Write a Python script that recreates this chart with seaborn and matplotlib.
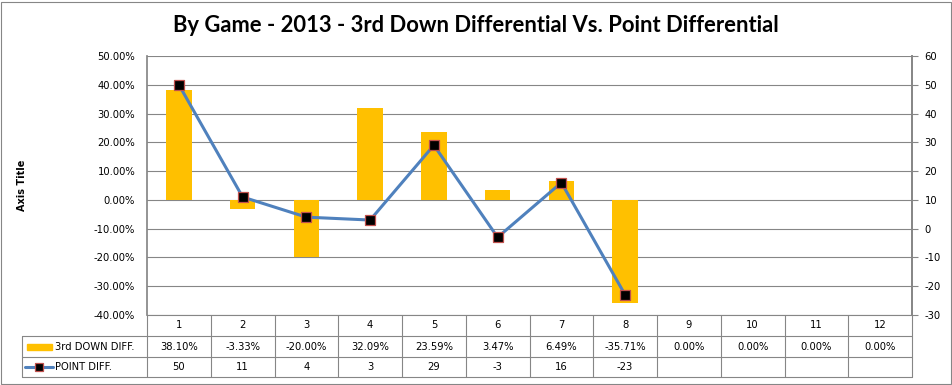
import numpy as np
import matplotlib
matplotlib.use('Agg')
import matplotlib.pyplot as plt
import matplotlib.ticker as mtick
from matplotlib.transforms import blended_transform_factory
from matplotlib.lines import Line2D
from matplotlib.patches import Rectangle
import seaborn as sns

# ---------------- data ----------------
games = [1, 2, 3, 4, 5, 6, 7, 8, 9, 10, 11, 12]
third_down = [0.3810, -0.0333, -0.2000, 0.3209, 0.2359, 0.0347, 0.0649, -0.3571, 0.0, 0.0, 0.0, 0.0]
point_diff = [50, 11, 4, 3, 29, -3, 16, -23]
bar_label = '3rd DOWN DIFF.'
line_label = 'POINT DIFF.'
title = 'By Game - 2013 - 3rd Down Differential Vs. Point Differential'

BAR_C = '#FFC000'
LINE_C = '#4F81BD'
EDGE_C = '#C0504D'
GRID_C = '#868686'

sns.set_theme(style='white')
plt.rcParams['font.family'] = ['DejaVu Sans']
plt.rcParams['axes.edgecolor'] = GRID_C
plt.rcParams['axes.unicode_minus'] = False
plt.rcParams['text.color'] = 'black'
plt.rcParams['axes.labelcolor'] = 'black'

W, H = 952, 385
fig = plt.figure(figsize=(W / 100, H / 100), dpi=100)

# plot area in pixels (from top-left of image)
left_px, right_px, top_px, bot_px = 147, 912, 56, 315
ax = fig.add_axes([left_px / W, 1 - bot_px / H, (right_px - left_px) / W, (bot_px - top_px) / H])

sns.barplot(x=games, y=third_down, ax=ax, color=BAR_C, width=0.4, saturation=1, linewidth=0)
ax.set_xlim(-0.5, len(games) - 0.5)
ax.set_ylim(-0.4, 0.5)
ax.set_yticks([k / 10 for k in range(-4, 6)])
ax.yaxis.set_major_formatter(mtick.FuncFormatter(lambda v, p: f'{round(v * 100, 6) + 0:.2f}%'))
ax.tick_params(axis='y', length=0, pad=8.5, labelsize=7.2, colors='black')
ax.set_xticks([])
ax.set_xlabel('')
ax.grid(axis='y', color=GRID_C, linewidth=0.8)
ax.set_axisbelow(True)
for s in ['top', 'bottom']:
    ax.spines[s].set_visible(False)
ax.spines['left'].set_color(GRID_C)
ax.spines['right'].set_color(GRID_C)
ax.set_ylabel('Axis Title', fontsize=7, fontweight='bold', labelpad=0)
ax.yaxis.set_label_coords((27 - left_px) / (right_px - left_px), 0.5)

ax2 = ax.twinx()
sns.lineplot(x=np.arange(len(point_diff)), y=point_diff, ax=ax2, color=LINE_C, linewidth=2.2,
             marker='s', markersize=6.5, markerfacecolor='black', markeredgecolor=EDGE_C,
             markeredgewidth=0.9)
ax2.set_ylim(-30, 60)
ax2.set_yticks(np.arange(-30, 61, 10))
ax2.tick_params(axis='y', length=4, width=0.8, color=GRID_C, pad=5, labelsize=7.2, labelcolor='black')
for s in ['top', 'bottom', 'left']:
    ax2.spines[s].set_visible(False)
ax2.spines['right'].set_color(GRID_C)
ax2.set_ylabel('')
ax2.set_xlim(-0.5, len(games) - 0.5)

# ---------------- data table ----------------
tr = blended_transform_factory(ax.transData, ax.transAxes)
ah = bot_px - top_px
rows = [0, -(336 - bot_px) / ah, -(357 - bot_px) / ah, -(377 - bot_px) / ah]
x_left = (22 - left_px) / (right_px - left_px)

def hline(x0, x1, y, trans):
    ax.add_line(Line2D([x0, x1], [y, y], transform=trans, color=GRID_C, lw=0.8, clip_on=False))

def vline(x, y0, y1, trans):
    ax.add_line(Line2D([x, x], [y0, y1], transform=trans, color=GRID_C, lw=0.8, clip_on=False))

hline(0, 1, rows[0], ax.transAxes)
for y in rows[1:]:
    hline(x_left, 1, y, ax.transAxes)
vline(x_left, rows[1], rows[3], ax.transAxes)
vline(0, rows[0], rows[3], ax.transAxes)
vline(1, rows[0], rows[3], ax.transAxes)
for k in range(1, len(games)):
    vline(k - 0.5, rows[0], rows[3], tr)

mid = [(rows[i] + rows[i + 1]) / 2 for i in range(3)]
for i, g in enumerate(games):
    ax.text(i, mid[0], str(g), transform=tr, ha='center', va='center', fontsize=7.2)
for i, v in enumerate(third_down):
    ax.text(i, mid[1], f'{v * 100:.2f}%', transform=tr, ha='center', va='center', fontsize=7.2)
for i, v in enumerate(point_diff):
    ax.text(i, mid[2], str(v), transform=tr, ha='center', va='center', fontsize=7.2)

# legend keys inside the table
px2ax = lambda px: (px - left_px) / (right_px - left_px)
ax.add_patch(Rectangle((px2ax(27), mid[1] - 3 / ah), px2ax(52) - px2ax(27), 6 / ah,
                       transform=ax.transAxes, color=BAR_C, clip_on=False))
ax.add_line(Line2D([px2ax(25), px2ax(53)], [mid[2], mid[2]], transform=ax.transAxes,
                   color=LINE_C, lw=2.2, clip_on=False))
ax.add_line(Line2D([px2ax(39)], [mid[2]], transform=ax.transAxes, marker='s', markersize=5.5,
                   markerfacecolor='black', markeredgecolor=EDGE_C, markeredgewidth=0.9,
                   clip_on=False))
ax.text(px2ax(55), mid[1], bar_label, transform=ax.transAxes, ha='left', va='center', fontsize=7.2)
ax.text(px2ax(55), mid[2], line_label, transform=ax.transAxes, ha='left', va='center', fontsize=7.2)

fig.text(0.5, 1 - 25 / H, title, ha='center', va='center', fontsize=15.8, color='black',
         fontweight='bold', family=['Lato', 'DejaVu Sans'])

fig.patches.append(Rectangle((0.5 / W, 1.5 / H), (W - 1.5) / W, (H - 3) / H,
                             transform=fig.transFigure, fill=False, edgecolor=GRID_C, lw=0.8))

fig.savefig('out.png', dpi=100)
